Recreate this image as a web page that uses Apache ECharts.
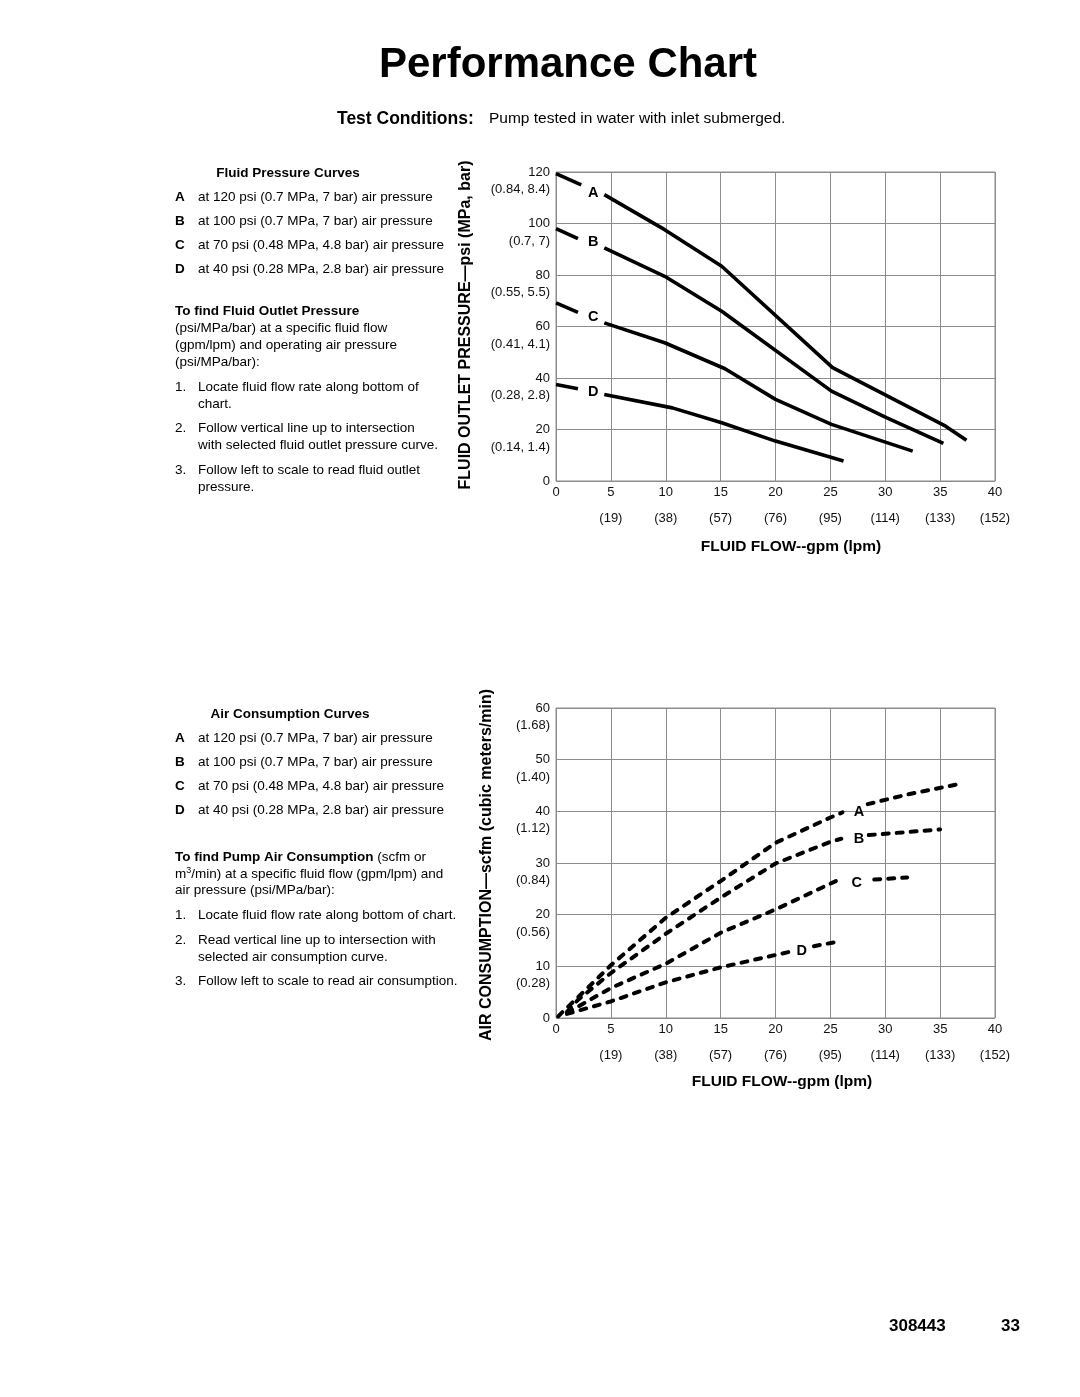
<!DOCTYPE html>
<html><head><meta charset="utf-8">
<script src="https://cdn.jsdelivr.net/npm/echarts@6/dist/echarts.min.js"></script>
<style>html,body{margin:0;padding:0;background:#fff}#c{width:1080px;height:1397px}</style>
</head><body><div id="c"></div>
<script>
// ---------- data ----------
const xTicks = [0, 5, 10, 15, 20, 25, 30, 35, 40];
const lpmLabels = ['', '(19)', '(38)', '(57)', '(76)', '(95)', '(114)', '(133)', '(152)'];
const pressureTicks = [0, 20, 40, 60, 80, 100, 120];
const pressureMetric = ['', '(0.14, 1.4)', '(0.28, 2.8)', '(0.41, 4.1)', '(0.55, 5.5)', '(0.7, 7)', '(0.84, 8.4)'];
const airTicks = [0, 10, 20, 30, 40, 50, 60];
const airMetric = ['', '(0.28)', '(0.56)', '(0.84)', '(1.12)', '(1.40)', '(1.68)'];
const curveNames = ['A', 'B', 'C', 'D'];

// Fluid pressure curves (gpm, psi): stub left of label, then main curve
const pressA_stub = [[0, 119.4], [2.3, 115]];
const pressA = [[4.4, 111.2], [9.9, 97.6], [15.1, 83.4], [25.2, 44], [35.5, 21.3], [37.4, 15.8]];
const pressB_stub = [[0, 98], [2.0, 94.1]];
const pressB = [[4.4, 90.5], [9.9, 79.5], [15.1, 65.9], [25.1, 34.9], [30.1, 24.6], [35.3, 14.6]];
const pressC_stub = [[0, 69.2], [2.0, 65.5]];
const pressC = [[4.4, 61.4], [9.9, 53.7], [15.4, 43.6], [20.0, 31.7], [25.1, 22.0], [32.5, 11.6]];
const pressD_stub = [[0, 37.5], [2.0, 35.8]];
const pressD = [[4.4, 33.6], [10.6, 28.4], [15.1, 22.6], [20.0, 15.5], [26.2, 7.8]];
const pressLabelPos = [[3.4, 112], [3.4, 92.7], [3.4, 63.8], [3.4, 34.7]];

// Air consumption curves (gpm, scfm): before label, after label
const airA1 = [[0.2, 0.3], [1, 2], [2, 4], [5, 10.2], [10, 19.4], [15, 26.5], [20, 33.9], [25, 38.8], [26.1, 39.8]];
const airA2 = [[28.4, 41.4], [32.1, 43.3], [37, 45.4]];
const airB1 = [[1, 1.2], [2, 3.5], [5, 8.7], [10, 16.3], [15, 23.3], [20, 29.9], [25, 34.1], [26, 34.7]];
const airB2 = [[28.5, 35.4], [35, 36.5]];
const airC1 = [[1, 1], [5, 5.8], [10, 10.5], [15, 16.5], [20, 21], [25.5, 26.5]];
const airC2 = [[29, 26.8], [32, 27.2]];
const airD1 = [[1, 0.8], [5, 3.2], [10, 6.9], [15, 9.8], [20, 12.2], [21.5, 12.9]];
const airD2 = [[23.5, 13.9], [26, 14.9]];
const airLabelPos = [[27.6, 39.8], [27.6, 34.6], [27.4, 26.2], [22.4, 12.9]];

// ---------- chart ----------
const FONT = '"Liberation Sans", Arial, Helvetica, sans-serif';
const GRID_C = '#8c8c8c';
const chart = echarts.init(document.getElementById('c'), null, {renderer: 'canvas'});

function xPrimary(gi) {
  return {type: 'value', gridIndex: gi, min: 0, max: 40, interval: 5,
    axisLine: {show: false}, axisTick: {show: false},
    splitLine: {show: true, lineStyle: {color: GRID_C, width: 1}},
    axisLabel: {margin: 5, color: '#111', fontSize: 13, fontFamily: FONT}};
}
function xSecondary(gi) {
  return {type: 'value', gridIndex: gi, min: 0, max: 40, interval: 5, position: 'bottom',
    axisLine: {show: false}, axisTick: {show: false}, splitLine: {show: false},
    axisLabel: {margin: 31, color: '#111', fontSize: 13, fontFamily: FONT,
      formatter: v => lpmLabels[xTicks.indexOf(v)] || ''}};
}
function yPrimary(gi, max, iv) {
  return {type: 'value', gridIndex: gi, min: 0, max: max, interval: iv,
    axisLine: {show: false}, axisTick: {show: false},
    splitLine: {show: true, lineStyle: {color: GRID_C, width: 1}},
    axisLabel: {margin: 6, color: '#111', fontSize: 13, fontFamily: FONT}};
}
function ySecondary(gi, max, iv, ticks, labels) {
  return {type: 'value', gridIndex: gi, min: 0, max: max, interval: iv, position: 'left',
    axisLine: {show: false}, axisTick: {show: false}, splitLine: {show: false},
    axisLabel: {margin: 6, color: '#111', fontSize: 13, fontFamily: FONT,
      verticalAlign: 'top', padding: [11, 0, 0, 0],
      formatter: v => labels[ticks.indexOf(v)] || ''}};
}

const series = [];
function solid(data, xi, yi) {
  series.push({type: 'line', data: data, xAxisIndex: xi, yAxisIndex: yi, showSymbol: false,
    silent: true, animation: false, lineStyle: {color: '#000', width: 3.6, cap: 'butt'}});
}
function dashed(data, xi, yi) {
  series.push({type: 'line', data: data, xAxisIndex: xi, yAxisIndex: yi, showSymbol: false,
    silent: true, animation: false,
    lineStyle: {color: '#000', width: 4, type: [6, 8], cap: 'round'}});
}
function labels(pos, xi, yi) {
  series.push({type: 'scatter', xAxisIndex: xi, yAxisIndex: yi, symbolSize: 0, silent: true, animation: false,
    itemStyle: {opacity: 1, color: '#000'},
    data: pos.map((p, i) => ({value: p, name: curveNames[i]})),
    label: {show: true, position: 'inside', formatter: '{b}', color: '#000', fontSize: 14.5, opacity: 1,
      fontWeight: 'bold', fontFamily: FONT, textBorderWidth: 0}});
}

[[pressA_stub, pressA], [pressB_stub, pressB], [pressC_stub, pressC], [pressD_stub, pressD]].forEach(p => {
  solid(p[0], 0, 0); solid(p[1], 0, 0);
});
labels(pressLabelPos, 0, 0);
[[airA1, airA2], [airB1, airB2], [airC1, airC2], [airD1, airD2]].forEach(p => {
  dashed(p[0], 2, 2); dashed(p[1], 2, 2);
});
labels(airLabelPos, 2, 2);

// ---------- page text ----------
const G = [];
function txt(x, y, s, size, bold, align) {
  G.push({type: 'text', x: x, y: y, silent: true,
    style: {text: s, fill: '#000', font: (bold ? 'bold ' : '') + size + 'px ' + FONT,
      textAlign: align || 'left', textVerticalAlign: 'middle'}});
}
const FS = 13.5;
txt(568, 65, 'Performance Chart', 42, true, 'center');
txt(337, 119, 'Test Conditions:', 17.5, true);
txt(489, 119, 'Pump tested in water with inlet submerged.', 15.5, false);

// top block
txt(288, 173, 'Fluid Pressure Curves', FS, true, 'center');
const pLines = ['at 120 psi (0.7 MPa, 7 bar) air pressure', 'at 100 psi (0.7 MPa, 7 bar) air pressure',
  'at 70 psi (0.48 MPa, 4.8 bar) air pressure', 'at 40 psi (0.28 MPa, 2.8 bar) air pressure'];
pLines.forEach((s, i) => { txt(175, 197 + 24 * i, curveNames[i], FS, true); txt(198, 197 + 24 * i, s, FS, false); });
txt(175, 311, 'To find Fluid Outlet Pressure', FS, true);
txt(175, 328, '(psi/MPa/bar) at a specific fluid flow', FS, false);
txt(175, 345, '(gpm/lpm) and operating air pressure', FS, false);
txt(175, 362, '(psi/MPa/bar):', FS, false);
txt(175, 387, '1.', FS, false); txt(198, 387, 'Locate fluid flow rate along bottom of', FS, false);
txt(198, 404, 'chart.', FS, false);
txt(175, 428, '2.', FS, false); txt(198, 428, 'Follow vertical line up to intersection', FS, false);
txt(198, 445, 'with selected fluid outlet pressure curve.', FS, false);
txt(175, 470, '3.', FS, false); txt(198, 470, 'Follow left to scale to read fluid outlet', FS, false);
txt(198, 487, 'pressure.', FS, false);

// bottom block
txt(290, 714, 'Air Consumption Curves', FS, true, 'center');
pLines.forEach((s, i) => { txt(175, 738 + 24 * i, curveNames[i], FS, true); txt(198, 738 + 24 * i, s, FS, false); });
G.push({type: 'text', x: 175, y: 857, silent: true,
  style: {text: '{b|To find Pump Air Consumption} (scfm or', fill: '#000', font: FS + 'px ' + FONT,
    textVerticalAlign: 'middle', rich: {b: {fontWeight: 'bold', fontSize: FS, fontFamily: FONT, fill: '#000'}}}});
G.push({type: 'text', x: 175, y: 874, silent: true,
  style: {text: 'm{s|3}/min) at a specific fluid flow (gpm/lpm) and', fill: '#000', font: FS + 'px ' + FONT,
    textVerticalAlign: 'middle', rich: {s: {fontSize: 9, fontFamily: FONT, fill: '#000', verticalAlign: 'top', padding: [0, 0, 6, 0]}}}});
txt(175, 890, 'air pressure (psi/MPa/bar):', FS, false);
txt(175, 915, '1.', FS, false); txt(198, 915, 'Locate fluid flow rate along bottom of chart.', FS, false);
txt(175, 940, '2.', FS, false); txt(198, 940, 'Read vertical line up to intersection with', FS, false);
txt(198, 957, 'selected air consumption curve.', FS, false);
txt(175, 981, '3.', FS, false); txt(198, 981, 'Follow left to scale to read air consumption.', FS, false);

// axis titles
G.push({type: 'text', x: 466, y: 325, rotation: Math.PI / 2, silent: true,
  style: {text: 'FLUID OUTLET PRESSURE\u2014psi (MPa, bar)', fill: '#000', font: 'bold 16px ' + FONT,
    textAlign: 'center', textVerticalAlign: 'middle'}});
G.push({type: 'text', x: 487, y: 865, rotation: Math.PI / 2, silent: true,
  style: {text: 'AIR CONSUMPTION\u2014scfm (cubic meters/min)', fill: '#000', font: 'bold 16px ' + FONT,
    textAlign: 'center', textVerticalAlign: 'middle'}});
txt(791, 547, 'FLUID FLOW--gpm (lpm)', 15.5, true, 'center');
txt(782, 1082, 'FLUID FLOW--gpm (lpm)', 15.5, true, 'center');

// footer
txt(889, 1326, '308443', 17, true);
txt(1001, 1326, '33', 17, true);

chart.setOption({
  animation: false,
  backgroundColor: '#fff',
  grid: [
    {left: 556, top: 172, width: 439, height: 309, show: true, borderColor: GRID_C, borderWidth: 1, backgroundColor: 'transparent'},
    {left: 556, top: 708, width: 439, height: 310, show: true, borderColor: GRID_C, borderWidth: 1, backgroundColor: 'transparent'}
  ],
  xAxis: [xPrimary(0), xSecondary(0), xPrimary(1), xSecondary(1)],
  yAxis: [yPrimary(0, 120, 20), ySecondary(0, 120, 20, pressureTicks, pressureMetric),
          yPrimary(1, 60, 10), ySecondary(1, 60, 10, airTicks, airMetric)],
  series: series,
  graphic: G
});
</script></body></html>
